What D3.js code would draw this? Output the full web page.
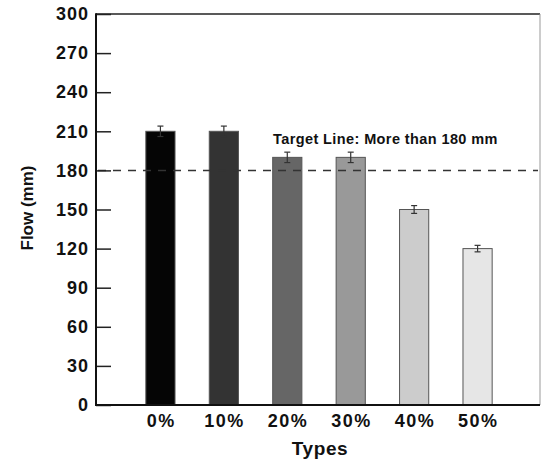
<!DOCTYPE html>
<html><head><meta charset="utf-8">
<script src="https://cdn.jsdelivr.net/npm/d3@7"></script>
<style>body{margin:0;background:#fff}svg{display:block}text{font-family:"Liberation Sans",Arial,sans-serif;font-weight:bold}</style>
</head><body><svg id="c" width="541" height="461"></svg>
<script>
const categories = ["0%","10%","20%","30%","40%","50%"];
const flowValues = [210,210,190,190,150,120];
const errorValues = [4,4,4,4,3,2.5];
const barColors = ["#050505","#333333","#666666","#999999","#cccccc","#e6e6e6"];
const yTicks = [0,30,60,90,120,150,180,210,240,270,300];
const targetValue = 180;
const targetLabel = "Target Line: More than 180 mm";

const svg = d3.select("#c");
const L=96, R=540, T=14, B=405;
const y = d3.scaleLinear().domain([0,300]).range([B,T]);
const step=(R-L)/7;
const x = d3.scaleBand().domain(categories).range([L+step*0.5+1, R-step*0.5+1]).paddingInner(0.54).paddingOuter(0.27);

// frame top/right
svg.append("line").attr("x1",L).attr("x2",R).attr("y1",T).attr("y2",T).attr("stroke","#222").attr("stroke-width",1.5);
svg.append("line").attr("x1",R).attr("x2",R).attr("y1",T).attr("y2",B).attr("stroke","#999").attr("stroke-width",1);

// bars
svg.selectAll("rect.bar").data(categories).join("rect").attr("class","bar")
  .attr("x",d=>x(d)).attr("width",x.bandwidth())
  .attr("y",(d,i)=>y(flowValues[i])).attr("height",(d,i)=>B-y(flowValues[i]))
  .attr("fill",(d,i)=>barColors[i]).attr("stroke","#555").attr("stroke-width",1);

// error bars
const eg = svg.append("g").attr("stroke","#333").attr("stroke-width",1.2);
categories.forEach((c,i)=>{
  const cx = x(c)+x.bandwidth()/2, hi=y(flowValues[i]+errorValues[i]), lo=y(flowValues[i]-errorValues[i]);
  eg.append("line").attr("x1",cx).attr("x2",cx).attr("y1",hi).attr("y2",lo);
  eg.append("line").attr("x1",cx-3).attr("x2",cx+3).attr("y1",hi).attr("y2",hi);
  eg.append("line").attr("x1",cx-3).attr("x2",cx+3).attr("y1",lo).attr("y2",lo);
});

// target line
svg.append("line").attr("x1",L+2).attr("x2",R-2).attr("y1",y(targetValue)).attr("y2",y(targetValue))
  .attr("stroke","#333").attr("stroke-width",1.5).attr("stroke-dasharray","8,7");
svg.append("text").attr("x",273).attr("y",144).attr("font-size",14.5).attr("letter-spacing",0.4).attr("fill","#111").text(targetLabel);

// y axis
const ya = svg.append("g").attr("transform",`translate(${L},0)`)
  .call(d3.axisRight(y).tickValues(yTicks).tickSize(15).tickFormat(d3.format("d")));
ya.select(".domain").remove();
ya.selectAll(".tick line").attr("stroke","#222").attr("stroke-width",1.5);
ya.selectAll(".tick text").attr("x",-7).attr("text-anchor","end").attr("font-size",18).attr("letter-spacing",1).attr("fill","#111")
  .attr("font-family","Liberation Sans, Arial, sans-serif").attr("font-weight","bold");
svg.append("line").attr("x1",L).attr("x2",L).attr("y1",T-0.75).attr("y2",B+1).attr("stroke","#111").attr("stroke-width",2);

// x axis
const xa = svg.append("g").attr("transform",`translate(0,${B})`).call(d3.axisBottom(x).tickSize(0));
xa.select(".domain").remove();
xa.selectAll(".tick text").attr("dy","0").attr("y",22).attr("font-size",18).attr("letter-spacing",1.5).attr("dx",0.75).attr("fill","#111")
  .attr("font-family","Liberation Sans, Arial, sans-serif").attr("font-weight","bold");
svg.append("line").attr("x1",L-1).attr("x2",R).attr("y1",B).attr("y2",B).attr("stroke","#111").attr("stroke-width",2);

// axis titles
svg.append("text").attr("x",320).attr("y",455).attr("text-anchor","middle").attr("font-size",19).attr("letter-spacing",0.6).attr("fill","#111").text("Types");
svg.append("text").attr("transform","translate(33,208) rotate(-90)").attr("text-anchor","middle").attr("font-size",17).attr("fill","#111").text("Flow (mm)");
</script></body></html>
